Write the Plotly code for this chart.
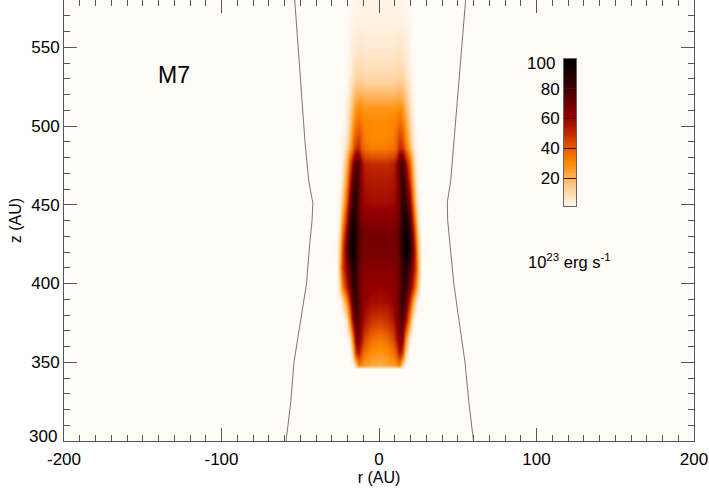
import plotly.graph_objects as go

# half-width columns (AU) and height rows (AU), mirrored about r=0 below
r_half = [0, 5, 9, 11, 13, 15, 17, 19, 21, 23, 25, 27, 30]
z_rows = [345.5, 346.5, 348.5, 356, 365, 377, 388, 398, 410, 421, 432, 442, 452, 465, 476, 481,
          486, 493, 503, 512, 519, 527, 535, 550, 565, 580]
lum = [
    [0, 0, 0, 0, 0, 0, 0, 0, 0, 0, 0, 0, 0],
    [7, 7, 7, 8, 8, 3, 0, 0, 0, 0, 0, 0, 0],
    [22, 23, 26, 30, 32, 12, 0, 0, 0, 0, 0, 0, 0],
    [27, 29, 34, 42, 55, 46, 12, 0, 0, 0, 0, 0, 0],
    [33, 36, 44, 55, 66, 62, 30, 4, 0, 0, 0, 0, 0],
    [46, 48, 55, 63, 72, 76, 58, 30, 6, 0, 0, 0, 0],
    [56, 57, 60, 66, 74, 82, 74, 50, 28, 8, 0, 0, 0],
    [60, 61, 62, 66, 72, 82, 82, 66, 52, 32, 10, 0, 0],
    [64, 64, 65, 67, 72, 84, 92, 75, 62, 46, 18, 0, 0],
    [68, 68, 68, 70, 75, 86, 100, 90, 70, 44, 14, 1, 0],
    [68, 68, 68, 70, 76, 88, 98, 84, 62, 36, 8, 0, 0],
    [63, 63, 64, 66, 73, 86, 92, 76, 50, 24, 4, 0, 0],
    [57, 57, 58, 62, 72, 86, 82, 64, 40, 14, 2, 0, 0],
    [54, 54, 55, 60, 74, 84, 72, 50, 28, 8, 0, 0, 0],
    [50, 50, 52, 60, 76, 78, 60, 40, 20, 4, 0, 0, 0],
    [41, 41, 43, 50, 64, 64, 48, 32, 16, 3, 0, 0, 0],
    [33, 33, 35, 40, 50, 48, 36, 22, 9, 2, 0, 0, 0],
    [30, 30, 32, 37, 44, 40, 30, 16, 6, 1, 0, 0, 0],
    [30, 30, 31, 33, 36, 32, 24, 12, 4, 0, 0, 0, 0],
    [27, 27, 27, 28, 29, 26, 18, 9, 3, 0, 0, 0, 0],
    [20, 20, 20, 21, 22, 20, 14, 7, 2, 0, 0, 0, 0],
    [12, 12, 12, 13, 14, 13, 9, 5, 1, 0, 0, 0, 0],
    [9, 9, 9, 10, 10, 9, 6, 3, 1, 0, 0, 0, 0],
    [5, 5, 5, 6, 6, 5, 4, 2, 0, 0, 0, 0, 0],
    [3, 3, 3, 3, 3, 3, 2, 1, 0, 0, 0, 0, 0],
    [2, 2, 2, 2, 2, 1, 1, 0, 0, 0, 0, 0, 0],
]

# cavity wall, both sides
wall_z = [580, 550, 520, 490, 465, 453, 451, 440, 425, 400, 375, 350, 325, 300]
wall_left = [-53.5, -51.4, -49, -47, -44.6, -42.5, -42, -42.5, -44, -46, -50, -54, -56, -59]
wall_right = [55, 52.4, 50, 47.6, 45.5, 43.6, 43.4, 43.6, 45, 47.5, 51, 54.6, 57, 60]

cbar_levels = list(range(1, 101))
cbar_ticks = [20, 40, 60, 80, 100]
x_ticks = [-200, -100, 0, 100, 200]
y_ticks = [300, 350, 400, 450, 500, 550]

colors = [
    [0.0, "#fffbf6"], [0.10, "#ffd9ae"], [0.20, "#ffb45c"], [0.30, "#ff8a00"],
    [0.40, "#e65a00"], [0.50, "#c02a00"], [0.60, "#980000"], [0.70, "#6e0000"],
    [0.80, "#3c0000"], [0.90, "#1e0000"], [1.0, "#000000"],
]

r_full = [-v for v in r_half[:0:-1]] + r_half
z_full = [row[:0:-1] + row for row in lum]

fig = go.Figure()
fig.add_trace(go.Heatmap(x=r_full, y=z_rows, z=z_full, zmin=0, zmax=100, colorscale=colors,
                         zsmooth="best", showscale=False, hoverinfo="skip"))
for wall_r in (wall_left, wall_right):
    fig.add_trace(go.Scatter(x=wall_r, y=wall_z, mode="lines", line=dict(color="#555555", width=0.8),
                             showlegend=False, hoverinfo="skip"))

# colour bar drawn as its own small axes, labels sit on the left
fig.add_trace(go.Heatmap(x=[0, 1], y=cbar_levels, z=[[v, v] for v in cbar_levels], zmin=0, zmax=100,
                         colorscale=colors, showscale=False, xaxis="x2", yaxis="y2", hoverinfo="skip"))

minor_style = dict(dtick=10, ticks="inside", ticklen=6, tickcolor="#555555", tickwidth=1)
axis_style = dict(showgrid=False, zeroline=False, showline=True, linecolor="#555555", linewidth=1,
                  mirror="allticks", ticks="inside", tickcolor="#555555", tickwidth=1, ticklen=13,
                  tickfont=dict(size=17, color="black"), title_font=dict(size=16, color="black"),
                  minor=minor_style, tickangle=0)

fig.update_layout(
    width=709, height=489, margin=dict(l=64, r=15, t=0, b=48),
    paper_bgcolor="white", plot_bgcolor="#fffbf6", font=dict(family="Liberation Sans", color="black"),
    showlegend=False,
    xaxis=dict(range=[-200, 200], tickvals=x_ticks, ticktext=[str(v) for v in x_ticks], ticklabelstandoff=3,
               title=dict(text="r (AU)", standoff=3), **axis_style),
    yaxis=dict(range=[300, 580], tickvals=y_ticks, ticktext=[""] + [str(v) for v in y_ticks[1:]],
               title=dict(text="z (AU)", standoff=5), **axis_style),
    xaxis2=dict(domain=[500 / 630, 512 / 630], anchor="y2", range=[0, 1], showticklabels=False, ticks="",
                showgrid=False, zeroline=False, showline=True, linecolor="#666666", mirror=True),
    yaxis2=dict(domain=[235 / 441, 382 / 441], anchor="x2", range=[1.2, 100], tickvals=cbar_ticks,
                ticktext=["20", "40", "60", "80", ""], ticks="inside", ticklen=12, tickcolor="#40100a",
                tickfont=dict(size=17, color="black"), showgrid=False, zeroline=False, showline=True,
                linecolor="#666666", mirror=True),
    annotations=[
        dict(text="M7", x=-130, y=532.5, xref="x", yref="y", showarrow=False, font=dict(size=23)),
        dict(text="300", x=0, y=5 / 441, xref="paper", yref="paper", xanchor="right", yanchor="middle",
             xshift=-5, showarrow=False, font=dict(size=17)),
        dict(text="100", x=500 / 630, y=(441 - 64) / 441, xref="paper", yref="paper", xanchor="right",
             yanchor="middle", xshift=-7, showarrow=False, font=dict(size=17)),
        dict(text="10<sup>23</sup> erg s<sup>-1</sup>", x=121, y=414, xref="x", yref="y",
             showarrow=False, font=dict(size=16.5)),
    ],
)

fig.write_html("out.html", config=dict(displayModeBar=False), post_script="document.body.style.margin='0';")
